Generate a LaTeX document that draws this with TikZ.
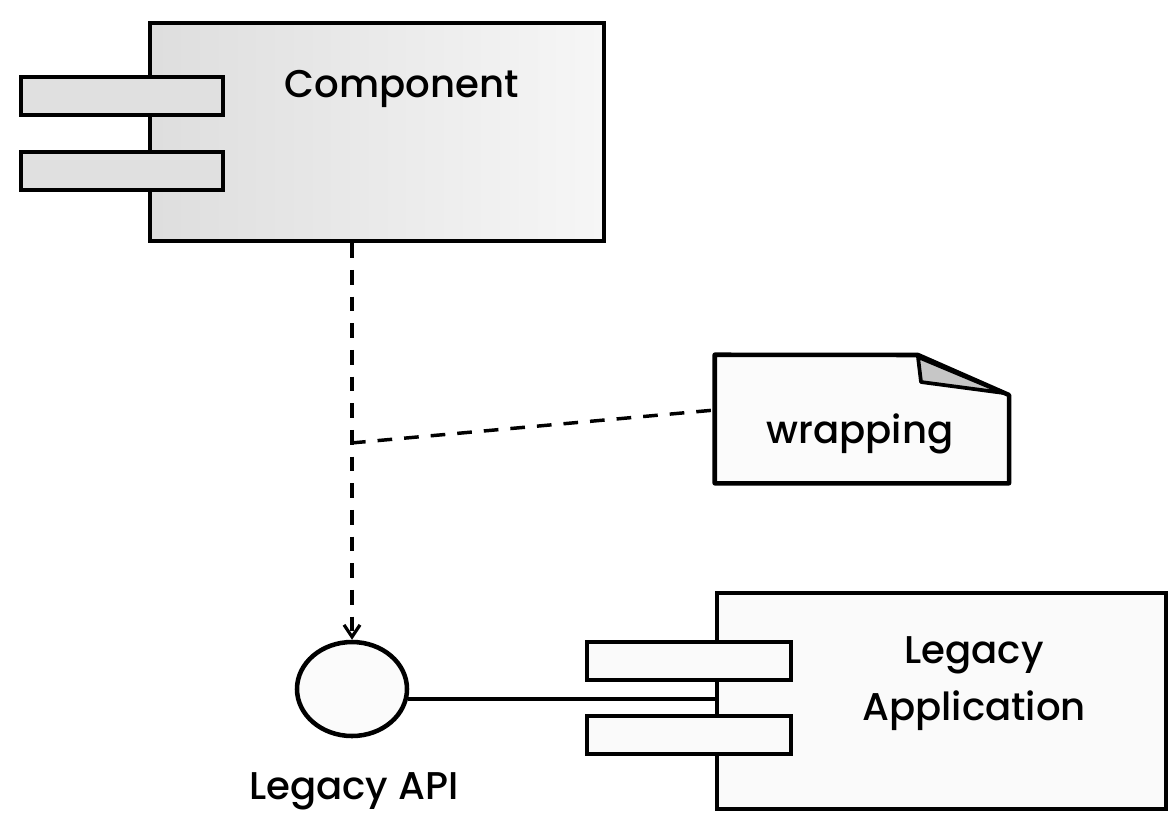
\documentclass[tikz,border=0pt]{standalone}
\usepackage{fontspec}
\setmainfont{Poppins}[UprightFont=* Medium]
\usetikzlibrary{fit,shapes.geometric,arrows.meta}
\tikzset{
  outline/.style={draw=black, line width=3.4pt},
  portbox/.style={outline, fit={#1}, inner sep=0pt},
  label/.style={font=\fontsize{29}{34}\selectfont, align=center, inner sep=0pt},
  dep/.style={line width=2.6pt, dash pattern=on 11pt off 9pt},
  link/.style={line width=2.6pt},
}
\begin{document}
\begin{tikzpicture}[x=0.75pt, y=-0.75pt]
  \useasboundingbox (0,0) rectangle (1169,815);

  % upper component
  \node[outline, left color=gray!26, right color=gray!7, fit={(150,23) (604,241)}, inner sep=0pt] (comp) {};
  \node[portbox={(21,77) (223,115)}, fill=gray!24] (cp1) {};
  \node[portbox={(21,152) (223,190)}, fill=gray!24] (cp2) {};
  \node[label, anchor=base] (compname) at (402,97) {Component};

  % provided interface
  \node[outline, ellipse, fill=gray!3, minimum width=110*0.75pt, minimum height=94*0.75pt, inner sep=0pt] (api) at (352,689) {};
  \node[label, anchor=base] (apiname) at (354,799) {Legacy API};

  % legacy application component
  \node[outline, fill=gray!4, fit={(717,593) (1166,809)}, inner sep=0pt] (leg) {};
  \node[portbox={(587,642) (791,680)}, fill=gray!4] (lp1) {};
  \node[portbox={(587,716) (791,754)}, fill=gray!4] (lp2) {};
  \node[label, anchor=base] (legname1) at (974,663) {Legacy};
  \node[label, anchor=base] (legname2) at (974,720) {Application};

  % note with folded corner
  \node[fit={(715,355) (1009,483)}, inner sep=0pt] (note) {};
  \draw[outline, fill=gray!3, line join=round]
    (note.north west) -- (918,355) -- (1009,395) -- (note.south east -| 1009,0)
    -- (note.south west) -- cycle;
  \draw[line width=2.8pt, fill=gray!45, line join=round]
    (918,357) -- (1004,393) -- (921,382) -- cycle;
  \node[label, anchor=base] (notetext) at (860,443) {wrapping};

  % connectors
  \coordinate (junction) at (351,443);
  \coordinate (noteend) at (715,410);
  \draw[dep, -{Straight Barb[length=9pt, width=12pt, line width=2.4pt]}]
    (api.north |- comp.south) -- (api.north);
  \draw[dep] (junction) -- (noteend);
  \draw[link] (api.-10) -- (api.-10 -| leg.west);
\end{tikzpicture}
\end{document}
